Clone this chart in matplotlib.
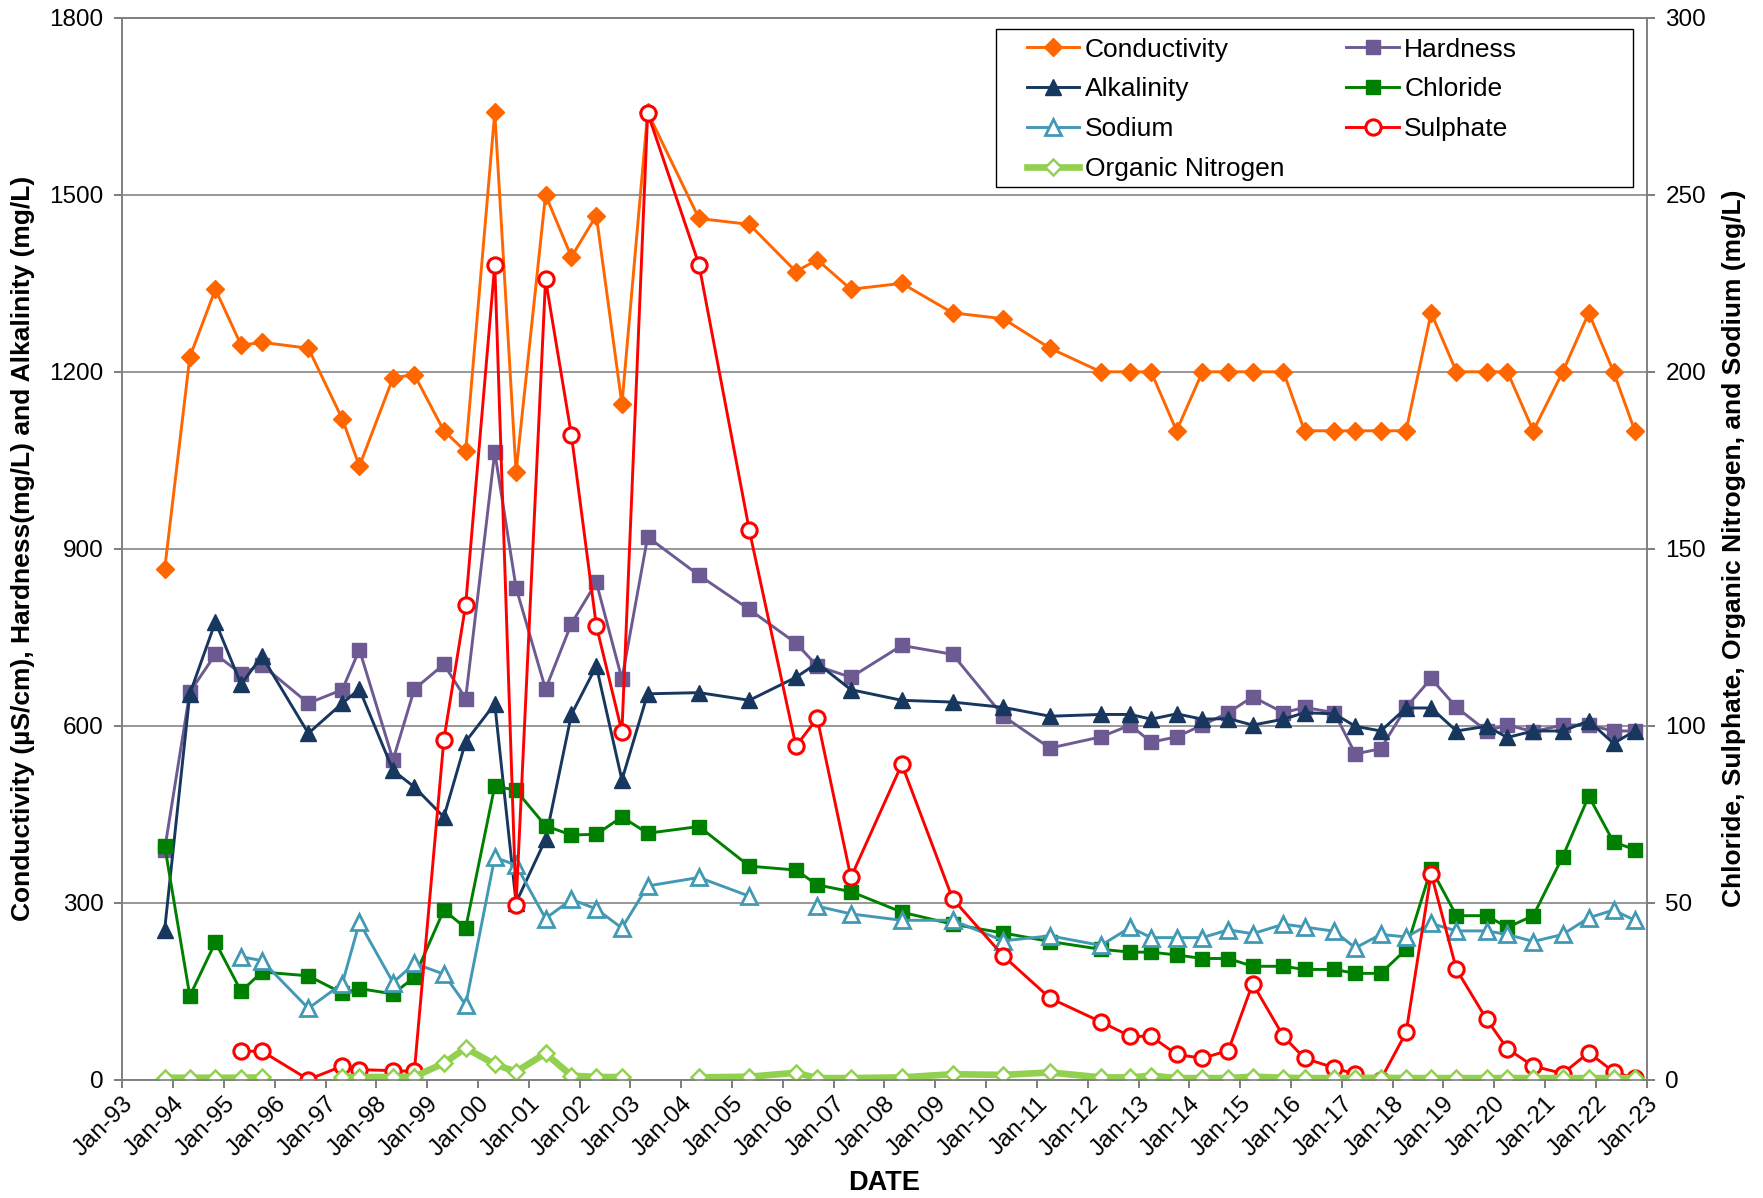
import matplotlib
matplotlib.use("Agg")
import matplotlib.pyplot as plt
import matplotlib.dates as mdates
from matplotlib.patches import Rectangle
import numpy as np
import pandas as pd

plt.rcParams['font.family'] = ['Liberation Sans', 'DejaVu Sans']

# Sampling dates
dates = [
    "1993-11-01", "1994-05-01", "1994-11-01", "1995-05-05", "1995-10-01",
    "1996-08-30", "1997-05-01", "1997-09-01", "1998-05-01", "1998-10-01",
    "1999-05-01", "1999-10-05", "2000-05-01", "2000-10-01", "2001-05-01",
    "2001-11-03", "2002-05-01", "2002-11-01", "2003-05-05", "2004-05-08",
    "2005-05-05", "2006-04-05", "2006-09-05", "2007-05-05", "2008-05-05",
    "2009-05-05", "2010-05-05", "2011-04-05", "2012-04-05", "2012-11-03",
    "2013-04-01", "2013-10-01", "2014-04-05", "2014-10-08", "2015-04-01",
    "2015-11-08", "2016-04-08", "2016-11-08", "2017-04-08", "2017-10-08",
    "2018-04-08", "2018-10-05", "2019-04-05", "2019-11-08", "2020-04-05",
    "2020-10-08", "2021-05-08", "2021-11-11", "2022-05-08", "2022-10-08",
]

nan = np.nan

# Primary axis: conductivity (uS/cm), hardness and alkalinity (mg/L)
conductivity = [865, 1225, 1340, 1245, 1250, 1240, 1120, 1040, 1190, 1195,
                1100, 1065, 1640, 1030, 1500, 1395, 1465, 1145, 1640, 1460,
                1450, 1370, 1390, 1340, 1350, 1300, 1290, 1240, 1200, 1200,
                1200, 1100, 1200, 1200, 1200, 1200, 1100, 1100, 1100, 1100,
                1100, 1300, 1200, 1200, 1200, 1100, 1200, 1300, 1200, 1100]
hardness = [390, 657, 721, 688, 703, 638, 661, 729, 542, 662,
            704, 646, 1064, 834, 662, 773, 843, 679, 920, 855,
            797, 740, 701, 682, 736, 721, 616, 562, 581, 601,
            572, 581, 601, 622, 649, 622, 631, 622, 552, 561,
            631, 680, 631, 591, 601, 590, 601, 601, 591, 591]
alkalinity = [254, 654, 776, 670, 718, 587, 638, 662, 524, 496,
              445, 573, 637, 300, 407, 619, 701, 508, 654, 656,
              643, 682, 706, 661, 643, 640, 631, 616, 619, 619,
              611, 620, 611, 612, 601, 611, 622, 620, 599, 591,
              630, 630, 591, 599, 580, 591, 591, 608, 570, 591]

# Secondary axis: chloride, sodium, sulphate, organic nitrogen (mg/L)
chloride = [66.1, 23.6, 38.8, 24.9, 30.4, 29.3, 24.4, 25.7, 24.2, 28.9,
            47.9, 42.8, 83.0, 81.7, 71.7, 69.1, 69.3, 74.2, 69.6, 71.5,
            60.3, 59.2, 55.0, 53.1, 47.3, 43.9, 41.4, 39.0, 36.8, 36.0,
            36.0, 35.2, 34.2, 34.2, 32.0, 32.0, 31.1, 31.1, 30.0, 30.0,
            36.8, 59.6, 46.3, 46.3, 43.0, 46.3, 63.0, 80.1, 67.1, 65.0]
sodium = [nan, nan, nan, 34.7, 33.6, 20.1, 27.1, 44.4, 27.4, 32.8,
          29.8, 21.1, 62.8, 60.6, 45.5, 50.9, 48.2, 42.8, 54.7, 57.1,
          51.8, nan, 49.0, 46.8, 45.0, 45.0, 39.2, 40.6, 37.9, 43.0,
          40.1, 40.1, 40.1, 42.3, 41.2, 43.9, 43.1, 41.9, 37.2, 41.0,
          40.3, 44.1, 42.0, 42.0, 41.0, 39.0, 41.0, 45.7, 47.9, 45.0]
sulphate = [nan, nan, nan, 8.0, 8.0, 0.0, 3.8, 2.8, 2.5, 2.3,
            96.0, 134.2, 230.3, 49.3, 226.1, 182.1, 128.3, 98.3, 273.2, 230.3,
            155.2, 94.2, 102.1, 57.1, 89.1, 51.1, 34.9, 23.0, 16.3, 12.2,
            12.2, 7.1, 6.0, 8.2, 27.1, 12.2, 6.0, 3.3, 1.5, 0.0,
            13.3, 58.2, 31.1, 17.0, 8.7, 3.8, 1.7, 7.6, 2.2, 0.3]
organic_nitrogen = [0.5, 0.5, 0.5, 0.5, 0.6, nan, 0.7, 0.7, 0.7, 0.8,
                    4.6, 8.9, 4.3, 2.2, 7.4, 1.1, 0.7, 0.7, nan, 0.6,
                    0.8, 1.9, 0.4, 0.4, 0.6, 1.5, 1.3, 2.0, 0.6, 0.6,
                    1.1, 0.4, 0.4, 0.4, 0.8, 0.5, 0.4, 0.4, 0.4, 0.5,
                    0.4, 0.4, 0.4, 0.4, 0.4, 0.4, 0.4, 0.4, 0.4, 0.4]

left_ticks = [0, 300, 600, 900, 1200, 1500, 1800]
right_ticks = [0, 50, 100, 150, 200, 250, 300]

x = pd.to_datetime(dates)

fig = plt.figure(figsize=(17.63, 11.98), dpi=100)
ax = fig.add_axes([0.0694, 0.0989, 0.8646, 0.8861])
ax2 = ax.twinx()

TICK_FS = 17.5
LW = 2.1

c_cond = "#FF6600"
c_hard = "#6E5A92"
c_alk = "#17375E"
c_chl = "#008000"
c_na = "#4299B4"
c_so4 = "#FF0000"
c_on = "#92D050"

h_cond, = ax.plot(x, conductivity, color=c_cond, lw=LW, marker="D", ms=9.5,
                  mec=c_cond, mfc=c_cond, label="Conductivity")
h_hard, = ax.plot(x, hardness, color=c_hard, lw=LW, marker="s", ms=10,
                  mec=c_hard, mfc=c_hard, label="Hardness")
h_alk, = ax.plot(x, alkalinity, color=c_alk, lw=LW, marker="^", ms=11,
                 mec=c_alk, mfc=c_alk, label="Alkalinity")

h_chl, = ax2.plot(x, chloride, color=c_chl, lw=LW, marker="s", ms=10,
                  mec=c_chl, mfc=c_chl, label="Chloride")
h_na, = ax2.plot(x, sodium, color=c_na, lw=LW, marker="^", ms=11,
                 mec=c_na, mfc="white", mew=2, label="Sodium")
h_so4, = ax2.plot(x, sulphate, color=c_so4, lw=LW, marker="o", ms=11,
                  mec=c_so4, mfc="white", mew=2.2, label="Sulphate")
h_on, = ax2.plot(x, organic_nitrogen, color=c_on, lw=4.8, marker="D", ms=8,
                 mec=c_on, mfc="white", mew=1.8, label="Organic Nitrogen")

# Axes limits and ticks
ax.set_xlim(pd.Timestamp("1993-01-01"), pd.Timestamp("2023-01-01"))
ax.set_ylim(0, 1800)
ax2.set_ylim(0, 300)
ax.set_yticks(left_ticks)
ax2.set_yticks(right_ticks)
ax.xaxis.set_major_locator(mdates.YearLocator(1, month=1, day=1))
ax.xaxis.set_major_formatter(mdates.DateFormatter("%b-%y"))

ax.grid(axis="y", color="#858585", lw=1.2)
ax.set_axisbelow(True)

for a in (ax, ax2):
    for s in a.spines.values():
        s.set_color("#808080")
        s.set_linewidth(1.2)
    a.tick_params(axis="both", direction="out", length=5.5, width=1.1,
                  color="#595959", labelsize=TICK_FS, labelcolor="black")

ax.tick_params(axis="y", pad=8)
ax2.tick_params(axis="y", pad=8)
ax.tick_params(axis="x", pad=4)
for lbl in ax.get_xticklabels():
    lbl.set_rotation(45)
    lbl.set_ha("right")
    lbl.set_va("top")
    lbl.set_rotation_mode("anchor")

ax.set_xlabel("DATE", fontsize=19.5, fontweight="bold")
ax.xaxis.set_label_coords(0.5, -0.085)
ax.set_ylabel("Conductivity (\u00b5S/cm), Hardness(mg/L) and Alkalinity (mg/L)",
              fontsize=19, fontweight="bold")
ax.yaxis.set_label_coords(-0.057, 0.5)
ax2.set_ylabel("Chloride, Sulphate, Organic Nitrogen, and Sodium (mg/L)",
               fontsize=19, fontweight="bold", rotation=90)
ax2.yaxis.set_label_coords(1.0495, 0.5)

# Legend: entries laid out column by column, boxed by a separate frame
frame = Rectangle((0.573, 0.841), 0.418, 0.1486, transform=ax2.transAxes,
                  facecolor="white", edgecolor="black", lw=1.0, zorder=8)
ax2.add_patch(frame)
handles = [h_cond, h_alk, h_na, h_on, h_hard, h_chl, h_so4]
leg = ax2.legend(handles=handles, labels=[h.get_label() for h in handles],
                 ncol=2, loc="upper left", bbox_to_anchor=(0.5932, 0.9815),
                 fontsize=19, frameon=False, borderpad=0, borderaxespad=0,
                 labelspacing=0.6, handlelength=2.0, handletextpad=0.2,
                 columnspacing=2.35)
leg.set_zorder(9)

fig.savefig("out.png", dpi=100)
